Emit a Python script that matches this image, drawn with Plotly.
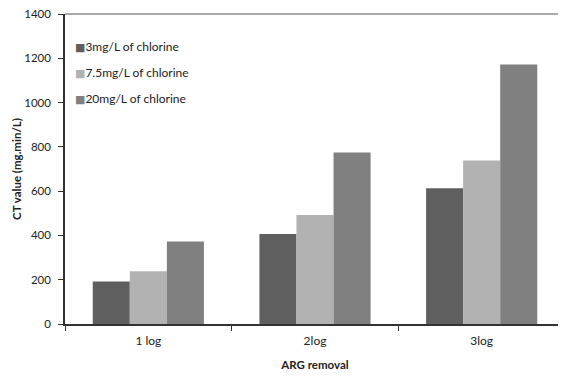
import plotly.graph_objects as go

categories = ["1 log", "2log", "3log"]
series_names = ["3mg/L of chlorine", "7.5mg/L of chlorine", "20mg/L of chlorine"]
values_3 = [192, 407, 613]
values_7_5 = [238, 492, 738]
values_20 = [373, 774, 1172]
colors = ["#5f5f5f", "#b2b2b2", "#808080"]

fig = go.Figure()
for name, vals, c in zip(series_names, [values_3, values_7_5, values_20], colors):
    fig.add_trace(go.Bar(x=categories, y=vals, name=name, showlegend=False,
                         marker=dict(color=c, line=dict(width=0))))

# legend drawn as text entries (square glyph + label), tight like the original
legend_y = [0.894, 0.81, 0.726]
annotations = []
for name, c, yy in zip(series_names, colors, legend_y):
    annotations.append(dict(
        xref="paper", yref="paper", x=0.016, y=yy, xanchor="left", yanchor="middle",
        showarrow=False, align="left",
        text=f'<span style="color:{c};font-family:DejaVu Sans;font-size:11px">■</span>{name}',
        font=dict(size=12, color="#222"),
    ))

font = "Lato, 'Open Sans', sans-serif"
fig.update_layout(
    width=558, height=368,
    margin=dict(l=57, r=1, t=6, b=52),
    paper_bgcolor="white", plot_bgcolor="white",
    barmode="group", bargap=0.333, bargroupgap=0,
    font=dict(family=font, size=12, color="#222"),
    showlegend=False,
    annotations=annotations,
    xaxis=dict(
        automargin=False,
        showline=True, linecolor="#333", linewidth=1.5, mirror=False,
        ticks="outside", tickson="boundaries", ticklen=5, tickcolor="#333",
        ticklabelstandoff=5,
        title=dict(text="<b>ARG removal</b>", font=dict(size=11.5), standoff=14),
        tickfont=dict(size=12),
    ),
    yaxis=dict(
        automargin=False,
        range=[0, 1400], dtick=200, showgrid=False, zeroline=False,
        showline=True, linecolor="#333", linewidth=1.5,
        ticks="outside", ticklen=5, tickcolor="#333",
        ticklabelstandoff=5, ticklabeloverflow="allow",
        title=dict(text="<b>CT value (mg.min/L)</b>", font=dict(size=11.5), standoff=0),
        tickfont=dict(size=11.5),
    ),
    shapes=[
        dict(type="line", xref="paper", yref="paper", x0=0, x1=1, y0=1, y1=1, line=dict(color="#555", width=1)),
        dict(type="line", xref="paper", yref="paper", x0=1, x1=1, y0=0, y1=1, line=dict(color="#555", width=1)),
    ],
)

fig.write_html("out.html")
